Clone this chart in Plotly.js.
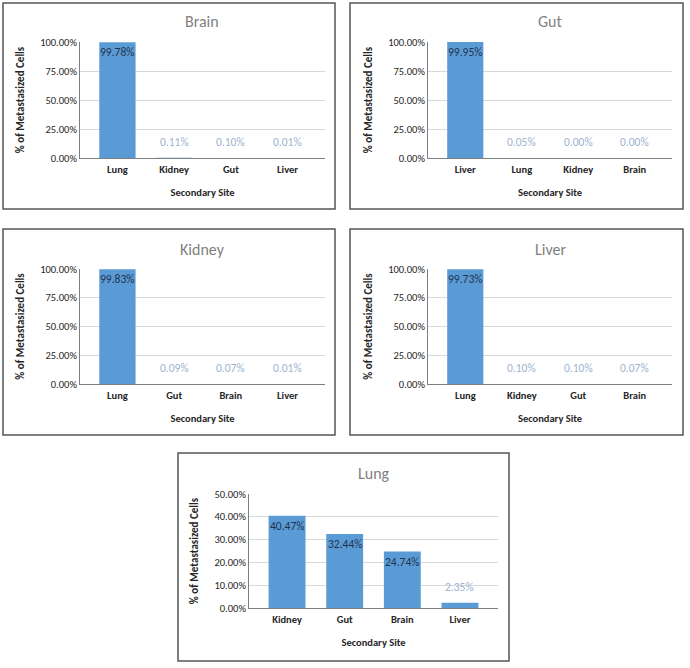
<!DOCTYPE html>
<html>
<head>
<meta charset="utf-8">
<script src="https://cdn.plot.ly/plotly-3.0.1.min.js"></script>
<style>html,body{margin:0;padding:0;background:#fff;}#chart{width:690px;height:668px;}</style>
</head>
<body>
<div id="chart"></div>
<script>
// Data (percent of metastasized cells by secondary site, per primary site)
const panelTitles = ["Brain", "Gut", "Kidney", "Liver", "Lung"];
const brainSites = ["Lung", "Kidney", "Gut", "Liver"];
const brainValues = [99.78, 0.11, 0.10, 0.01];
const gutSites = ["Liver", "Lung", "Kidney", "Brain"];
const gutValues = [99.95, 0.05, 0.00, 0.00];
const kidneySites = ["Lung", "Gut", "Brain", "Liver"];
const kidneyValues = [99.83, 0.09, 0.07, 0.01];
const liverSites = ["Lung", "Kidney", "Gut", "Brain"];
const liverValues = [99.73, 0.10, 0.10, 0.07];
const lungSites = ["Kidney", "Gut", "Brain", "Liver"];
const lungValues = [40.47, 32.44, 24.74, 2.35];
const yMax = [100, 100, 100, 100, 50];
const yStep = [25, 25, 25, 25, 10];
const xAxisTitle = "Secondary Site";
const yAxisTitle = "% of Metastasized Cells";

const sites = [brainSites, gutSites, kidneySites, liverSites, lungSites];
const values = [brainValues, gutValues, kidneyValues, liverValues, lungValues];

const W = 690, H = 668;
const px = v => v / W;
const py = v => 1 - v / H;

// plot areas in pixels [x0, x1, yTop, yBottom]
const areas = [
  [80, 325, 42, 158],
  [428, 672, 42, 158],
  [80, 325, 269, 384],
  [428, 672, 269, 384],
  [249, 498, 494, 608]
];
// border boxes [x0, x1, y0, y1]
const boxes = [
  [3, 335, 3, 209],
  [350, 683, 3, 209],
  [3, 335, 229, 435],
  [350, 683, 229, 435],
  [178, 509, 453, 661]
];

const FONT = "Carlito, Calibri, Lato, 'Liberation Sans', sans-serif";
const barColor = "#5b9bd5";

const data = [];
const layout = {
  width: W, height: H,
  margin: {l: 0, r: 0, t: 0, b: 0},
  paper_bgcolor: "#fff", plot_bgcolor: "rgba(0,0,0,0)",
  showlegend: false,
  font: {family: FONT},
  shapes: [], annotations: []
};

for (let i = 0; i < 5; i++) {
  const n = i === 0 ? "" : String(i + 1);
  const xa = "x" + n, ya = "y" + n;
  const a = areas[i];
  data.push({
    type: "bar", x: sites[i], y: values[i],
    xaxis: xa, yaxis: ya, width: 0.64,
    marker: {color: barColor, line: {width: 0}},
    hoverinfo: "skip"
  });
  layout["xaxis" + n] = {
    domain: [px(a[0]), px(a[1])], anchor: ya,
    range: [-0.66, 3.66],
    showline: true, linecolor: "#7f7f7f", linewidth: 1,
    ticks: "", showgrid: false, zeroline: false, fixedrange: true,
    tickfont: {family: FONT, size: 10.5, color: "#262626", weight: "bold"},
    ticklabelstandoff: 1,
    title: {text: xAxisTitle, font: {family: FONT, size: 10.5, color: "#262626", weight: "bold"}, standoff: 14}
  };
  layout["yaxis" + n] = {
    domain: [py(a[3]), py(a[2])], anchor: xa,
    range: [0, yMax[i]], dtick: yStep[i], tick0: 0,
    tickformat: ".2f", ticksuffix: "%",
    showline: true, linecolor: "#7f7f7f", linewidth: 1,
    showgrid: true, gridcolor: "#d9d9d9", gridwidth: 1,
    zeroline: false, ticks: "", fixedrange: true,
    tickfont: {family: FONT, size: 10.5, color: "#262626"},
    title: {text: yAxisTitle, font: {family: FONT, size: 11, color: "#262626", weight: "bold"}, standoff: 13}
  };
  // panel title
  layout.annotations.push({
    xref: "paper", yref: "paper",
    x: (px(a[0]) + px(a[1])) / 2, y: py(i < 2 ? 22 : i < 4 ? 249 : 473),
    text: panelTitles[i], showarrow: false,
    xanchor: "center", yanchor: "middle",
    font: {family: FONT, size: 16, color: "#7f7f7f"}
  });
  // data labels
  sites[i].forEach((s, k) => {
    const v = values[i][k];
    const inside = v > 10;
    layout.annotations.push({
      xref: xa, yref: ya, x: s, y: v,
      text: v.toFixed(2) + "%", showarrow: false,
      xanchor: "center", yanchor: "middle",
      yshift: inside ? -10 : 16,
      font: {family: FONT, size: 11.5, color: inside ? "#1f3350" : "#9db4cf"}
    });
  });
  const b = boxes[i];
  layout.shapes.push({
    type: "rect", xref: "paper", yref: "paper",
    x0: px(b[0]), x1: px(b[1]), y0: py(b[3]), y1: py(b[2]),
    line: {color: "#555", width: 1.5}, fillcolor: "rgba(0,0,0,0)", layer: "above"
  });
}

Plotly.newPlot("chart", data, layout, {staticPlot: true, displayModeBar: false});
</script>
</body>
</html>
